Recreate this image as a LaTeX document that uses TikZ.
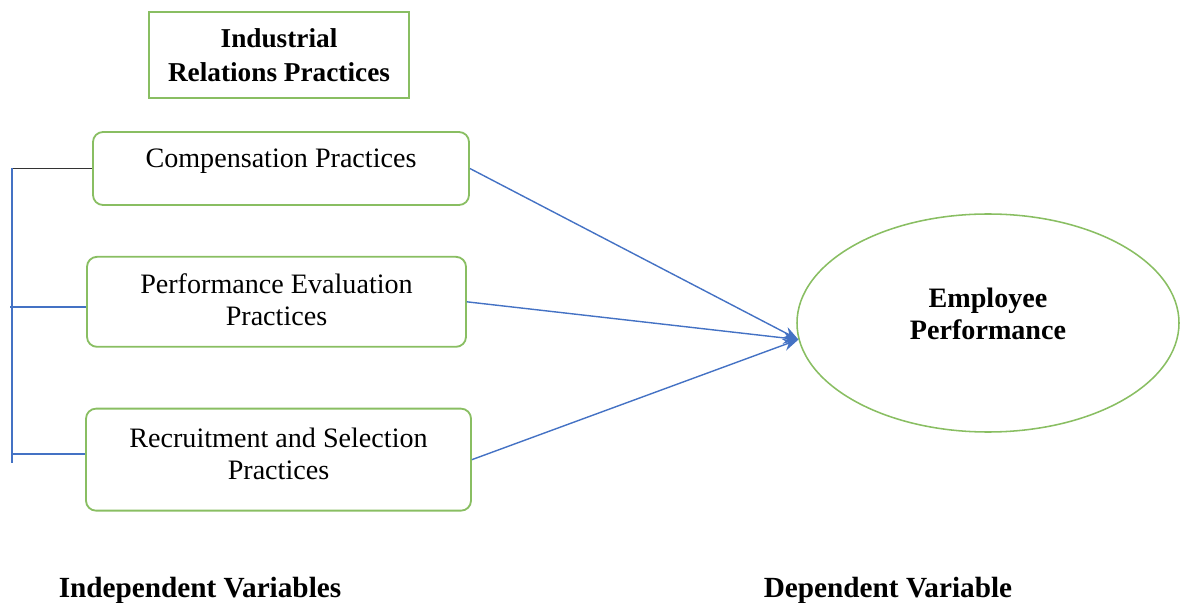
\documentclass[tikz,border=0pt]{standalone}
\usepackage{fontspec}
\setmainfont{Liberation Serif}
\usepackage{tikz}
\usetikzlibrary{shapes.geometric, arrows.meta, positioning}

\definecolor{boxgreen}{RGB}{137,190,98}
\definecolor{linkblue}{RGB}{68,114,196}

\begin{document}
\begin{tikzpicture}[
    practice/.style={rectangle, rounded corners=0.25cm, draw=boxgreen, line width=1.3pt, align=center, font=\fontsize{20}{22.5}\selectfont},
    heading/.style={rectangle, draw=boxgreen, line width=1.3pt, align=center, font=\fontsize{19.4}{23.5}\selectfont\bfseries, minimum width=6.5cm, minimum height=2.15cm},
    outcome/.style={ellipse, draw=boxgreen, line width=1.1pt, align=center, font=\fontsize{20}{22.5}\selectfont\bfseries, minimum width=9.55cm, minimum height=5.45cm},
    caption/.style={anchor=base, font=\fontsize{20.8}{23}\selectfont\bfseries},
    arrow/.style={->, >={Stealth[length=0.38cm, width=0.3cm]}, linkblue, line width=1pt},
    bracket/.style={linkblue, line width=1pt}
]
\useasboundingbox (0,0) rectangle (29.5,-15.075);

% Independent variables
\node[practice, minimum width=9.4cm, minimum height=1.825cm, text depth=0.54cm] (comp) at (7.025,-4.2125) {Compensation Practices};
\node[heading, above=0.8cm of comp, xshift=-0.05cm] (irp) {Industrial\\Relations Practices};
\node[practice, minimum width=9.475cm, minimum height=2.25cm, below=1.25cm of comp, xshift=-0.1125cm, text depth=0.1cm] (perf) {Performance Evaluation\\Practices};
\node[practice, minimum width=9.625cm, minimum height=2.55cm, below=1.5cm of perf, xshift=0.05cm, text depth=0.3cm] (recr) {Recruitment and Selection\\Practices};

% Dependent variable
\node[outcome, text depth=0.47cm] (emp) at (24.7,-8.075) {Employee\\Performance};

% Captions
\node[caption] (indep) at (5.0,-14.925) {Independent Variables};
\node[caption] (dep) at (22.2,-14.925) {Dependent Variable};

% Bracket on the left
\coordinate (spinetop) at (0.3,-4.2125);
\coordinate (spinebot) at (0.3,-11.575);
\coordinate (perfjoin) at (0.25,-7.675);
\coordinate (recrjoin) at (0.3,-11.35);
\draw[line width=1pt, black!80] (spinetop) -- (comp.west);
\draw[bracket] (spinetop) -- (spinebot);
\draw[bracket] (perfjoin) -- (perfjoin -| perf.west);
\draw[bracket] (recrjoin) -- (recrjoin -| recr.west);

% Arrows into the outcome
\draw[arrow] (comp.east) -- (emp.185);
\draw[arrow] (perf.east) -- (emp.185);
\draw[arrow] (recr.east) -- (emp.185);

\end{tikzpicture}
\end{document}
